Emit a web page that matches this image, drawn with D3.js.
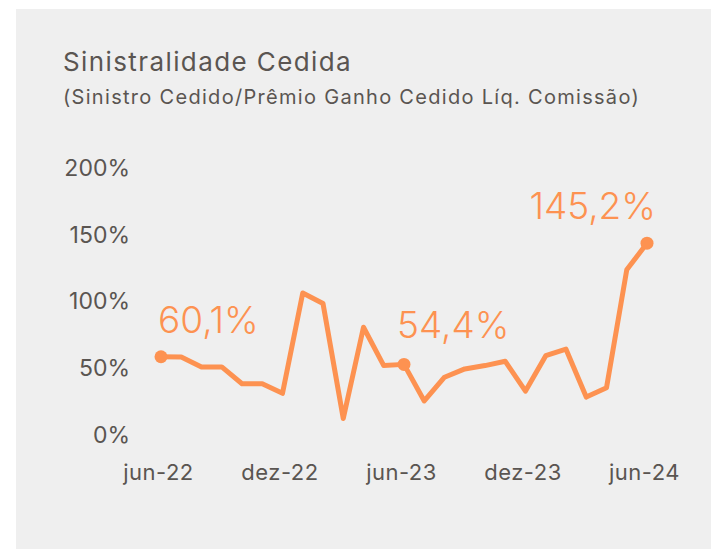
<!DOCTYPE html>
<html>
<head>
  <meta charset="utf-8">
  <script src="https://cdn.jsdelivr.net/npm/d3@7"></script>
  <style>
    body {
      margin: 0;
      background: #ffffff;
      font-family: 'Inter', sans-serif;
    }

    .axis text {
      fill: #5a5551;
    }

    .line {
      fill: none;
    }
  </style>
</head>
<body>
  <div id="chart"></div>
  <script>
    var width = 711;
    var height = 549;

    // monthly series, jun-22 .. jun-24
    var months = ["jun-22", "jul-22", "ago-22", "set-22", "out-22", "nov-22", "dez-22",
      "jan-23", "fev-23", "mar-23", "abr-23", "mai-23", "jun-23", "jul-23", "ago-23",
      "set-23", "out-23", "nov-23", "dez-23", "jan-24", "fev-24", "mar-24", "abr-24",
      "mai-24", "jun-24"];
    var values = [60.1, 60.0, 52.5, 52.5, 39.9, 39.9, 32.7, 107.9, 100.0, 13.9, 82.2,
      53.5, 54.4, 27.0, 44.8, 51.0, 53.5, 56.7, 34.4, 60.9, 65.8, 29.9, 36.9,
      125.2, 145.2];

    var xTickLabels = ["jun-22", "dez-22", "jun-23", "dez-23", "jun-24"];
    var yTicks = [0, 50, 100, 150, 200];

    // points that get a marker and a label
    var highlightMonths = ["jun-22", "jun-23", "jun-24"];
    var highlightLabels = ["60,1%", "54,4%", "145,2%"];

    var orange = "#fd9251";
    var grey = "#5a5551";

    var data = months.map(function (m, i) {
      return { month: m, value: values[i] };
    });

    var svg = d3.select("#chart").append("svg")
      .attr("width", width)
      .attr("height", height);

    // panel
    svg.append("rect")
      .attr("x", 16)
      .attr("y", 9)
      .attr("width", width - 16)
      .attr("height", height - 9)
      .attr("fill", "#efefef");

    svg.append("text")
      .attr("x", 63)
      .attr("y", 71)
      .attr("fill", grey)
      .style("font-size", "26px")
      .style("letter-spacing", "1.4px")
      .text("Sinistralidade Cedida");

    svg.append("text")
      .attr("x", 63)
      .attr("y", 104)
      .attr("fill", grey)
      .style("font-size", "20px")
      .style("letter-spacing", "1.3px")
      .text("(Sinistro Cedido/Prêmio Ganho Cedido Líq. Comissão)");

    var x = d3.scalePoint()
      .domain(months)
      .range([161, 647]);

    var y = d3.scaleLinear()
      .domain([0, 200])
      .range([437, 170]);

    var yAxis = svg.append("g")
      .attr("class", "axis")
      .attr("transform", "translate(130,-2)")
      .call(d3.axisLeft(y)
        .tickValues(yTicks)
        .tickSize(0)
        .tickPadding(0)
        .tickFormat(function (d) { return d + "%"; }));

    yAxis.select(".domain").remove();
    yAxis.selectAll("text")
      .style("font-size", "23px")
      .style("font-family", "Inter, sans-serif");

    // labels sit a few px left of the points in the original
    var xAxis = svg.append("g")
      .attr("class", "axis")
      .attr("transform", "translate(-3,464)")
      .call(d3.axisBottom(x)
        .tickValues(xTickLabels)
        .tickSize(0)
        .tickPadding(0));

    xAxis.select(".domain").remove();
    xAxis.selectAll("text")
      .style("font-size", "22px")
      .style("letter-spacing", "0.5px")
      .style("font-family", "Inter, sans-serif");

    var line = d3.line()
      .x(function (d) { return x(d.month); })
      .y(function (d) { return y(d.value); });

    svg.append("path")
      .datum(data)
      .attr("class", "line")
      .attr("d", line)
      .attr("stroke", orange)
      .attr("stroke-width", 5)
      .attr("stroke-linejoin", "round");

    var hl = data.filter(function (d) { return highlightMonths.indexOf(d.month) >= 0; });

    svg.selectAll(".marker")
      .data(hl)
      .enter()
      .append("circle")
      .attr("class", "marker")
      .attr("cx", function (d) { return x(d.month); })
      .attr("cy", function (d) { return y(d.value); })
      .attr("r", 6.5)
      .attr("fill", orange);

    svg.selectAll(".value-label")
      .data(hl)
      .enter()
      .append("text")
      .attr("class", "value-label")
      .attr("x", function (d, i) {
        if (i == 2) return x(d.month) + 9;
        return x(d.month) - (i == 1 ? 7 : 3);
      })
      .attr("y", function (d, i) { return y(d.value) - (i == 1 ? 26 : 24); })
      .attr("text-anchor", function (d, i) { return i == 2 ? "end" : "start"; })
      .attr("fill", orange)
      .style("font-size", "37px")
      .style("font-weight", 300)
      .text(function (d, i) { return highlightLabels[i]; });
  </script>
</body>
</html>
